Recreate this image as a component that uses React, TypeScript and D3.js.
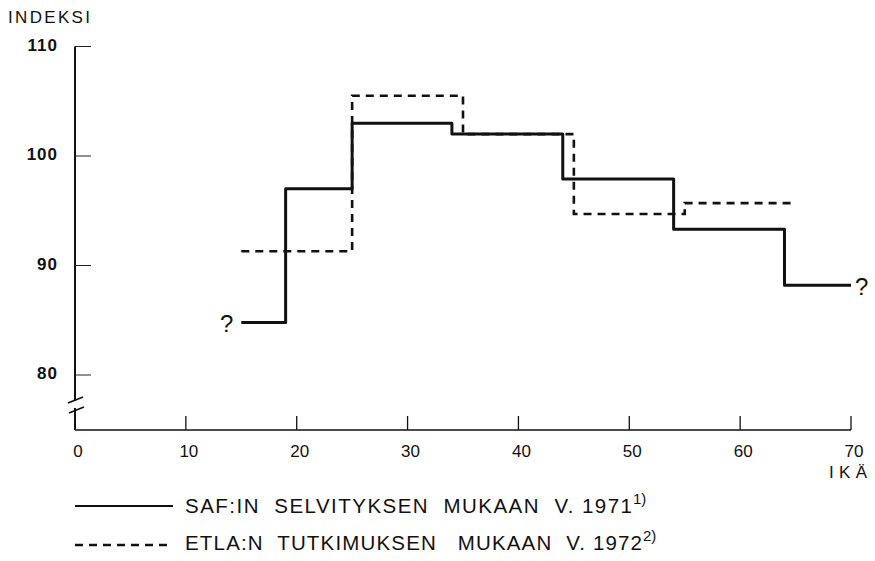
import React from "react";
import * as d3 from "d3";

const xTicks = [0, 10, 20, 30, 40, 50, 60, 70];
const yTicks = [80, 90, 100, 110];
const safAges = [15, 19, 25, 34, 44, 54, 64, 70];
const safValues = [84.8, 97.0, 103.0, 102.0, 97.9, 93.3, 88.2, 88.2];
const etlaAges = [15, 25, 35, 45, 55, 65];
const etlaValues = [91.3, 105.5, 102.0, 94.7, 95.7, 95.7];
const legendLabels = ["SAF:IN  SELVITYKSEN  MUKAAN  V. 1971", "ETLA:N  TUTKIMUKSEN   MUKAAN  V. 1972"];
const legendNotes = ["1)", "2)"];

const W = 875;
const H = 561;

export default function App() {
  const x = d3.scaleLinear().domain([0, 70]).range([75, 851]);
  const y = d3.scaleLinear().domain([100, 110]).range([156, 46.5]);
  const baseY = 430;
  const line = d3
    .line<[number, number]>()
    .x((d) => x(d[0]))
    .y((d) => y(d[1]))
    .curve(d3.curveStepAfter);
  const saf = line(safAges.map((a, i) => [a, safValues[i]] as [number, number]));
  const etla = line(etlaAges.map((a, i) => [a, etlaValues[i]] as [number, number]));
  const tickFont = "'Liberation Sans', Arial, sans-serif";
  const legendWidths = [447, 457];
  return (
    <svg
      width={W}
      height={H}
      style={{ position: "absolute", left: 0, top: 0, background: "#fff" }}
    >
      <rect width={W} height={H} fill="#fff" />
      <text
        x={8}
        y={23}
        fontFamily={tickFont}
        fontSize={17}
        fill="#111"
        textLength={82}
        lengthAdjust="spacing"
      >
        INDEKSI
      </text>
      {/* y axis */}
      <line x1={x(0)} x2={x(0)} y1={y(110)} y2={baseY} stroke="#111" strokeWidth={2} />
      {yTicks.map((t) => (
        <g key={t}>
          <line x1={x(0)} x2={x(0) + 16} y1={y(t)} y2={y(t)} stroke="#222" strokeWidth={1} />
          <text
            x={58}
            y={y(t) + 4}
            textAnchor="end"
            fontFamily={tickFont}
            fontWeight="bold"
            fontSize={17}
            letterSpacing={1}
            fill="#111"
          >
            {t}
          </text>
        </g>
      ))}
      {/* axis break */}
      <rect x={66} y={401} width={20} height={7} fill="#fff" />
      <line x1={68} y1={403} x2={83} y2={397} stroke="#111" strokeWidth={1.8} />
      <line x1={69} y1={413} x2={84} y2={407} stroke="#111" strokeWidth={1.8} />
      {/* x axis */}
      <line x1={x(0)} x2={x(70)} y1={baseY} y2={baseY} stroke="#111" strokeWidth={1.5} />
      {xTicks.map((t) => (
        <g key={t}>
          {t > 0 && (
            <line x1={x(t)} x2={x(t)} y1={baseY} y2={baseY - 14} stroke="#111" strokeWidth={1.3} />
          )}
          <text
            x={x(t) + 3}
            y={457}
            textAnchor="middle"
            fontFamily={tickFont}
            fontSize={17}
            fill="#111"
          >
            {t}
          </text>
        </g>
      ))}
      <text
        x={829}
        y={478}
        fontFamily={tickFont}
        fontSize={17}
        fill="#111"
        textLength={38}
        lengthAdjust="spacing"
      >
        IKÄ
      </text>
      {/* series */}
      <path d={etla ?? ""} fill="none" stroke="#111" strokeWidth={2.6} strokeDasharray="8 6" />
      <path d={saf ?? ""} fill="none" stroke="#111" strokeWidth={3} strokeLinejoin="round" />
      <text x={x(15) - 8} y={y(safValues[0]) + 10} textAnchor="end" fontFamily={tickFont} fontSize={24} fill="#111">
        ?
      </text>
      <text x={x(70) + 4} y={y(safValues[7]) + 10} textAnchor="start" fontFamily={tickFont} fontSize={24} fill="#111">
        ?
      </text>
      {/* legend */}
      {legendLabels.map((lab, i) => {
        const ly = 506 + i * 39;
        const base = 513 + i * 37;
        return (
          <g key={lab}>
            <line
              x1={75}
              x2={173}
              y1={ly}
              y2={ly}
              stroke="#111"
              strokeWidth={i === 0 ? 2 : 2.4}
              strokeDasharray={i === 0 ? undefined : "8 6"}
            />
            <text
              x={185}
              y={base}
              fontFamily={tickFont}
              fontSize={20.5}
              fill="#111"
              textLength={legendWidths[i]}
              lengthAdjust="spacing"
              style={{ whiteSpace: "pre" }}
            >
              {lab}
            </text>
            <text
              x={185 + legendWidths[i] + 1}
              y={base - 9}
              fontFamily={tickFont}
              fontSize={15}
              fill="#111"
            >
              {legendNotes[i]}
            </text>
          </g>
        );
      })}
    </svg>
  );
}
